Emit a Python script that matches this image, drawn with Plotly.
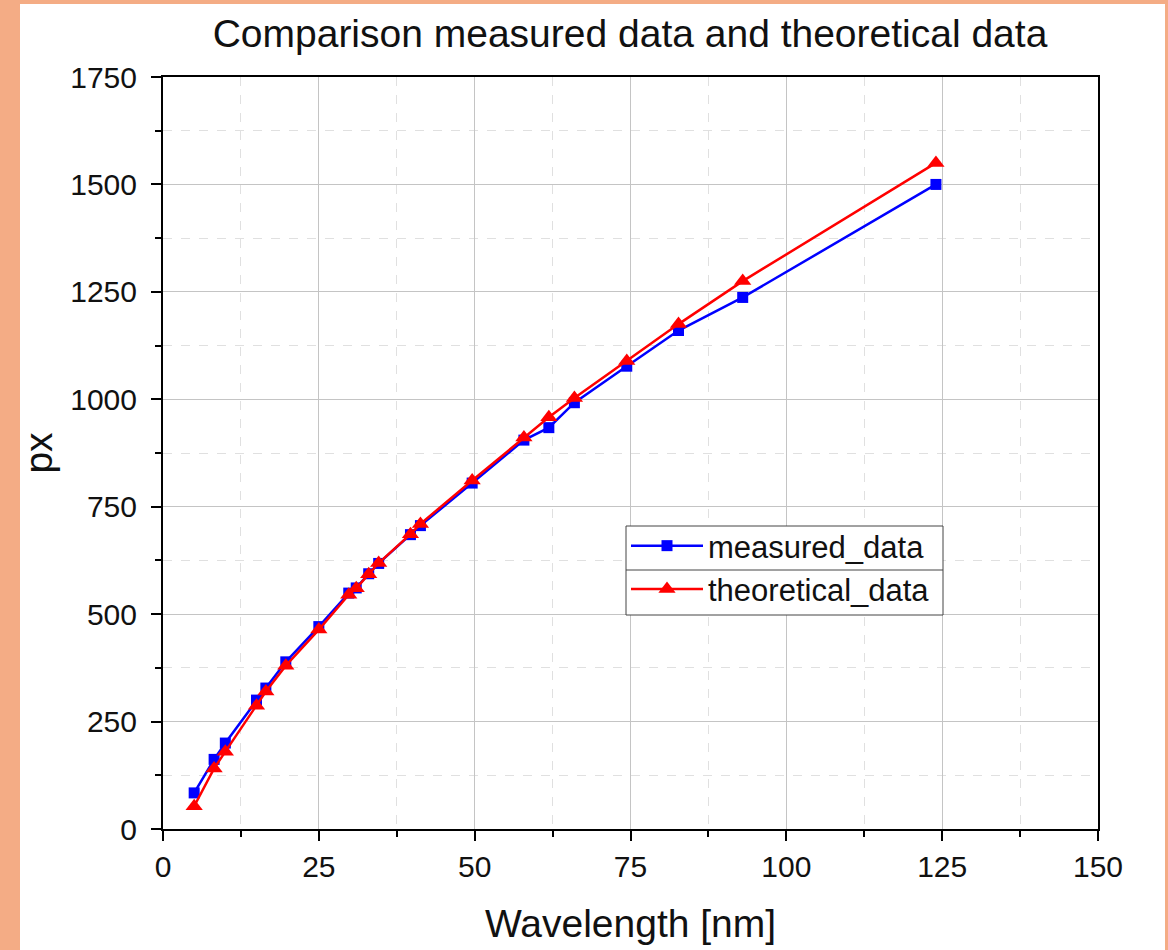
import plotly.graph_objects as go

wavelength = [5, 8.2, 10, 15, 16.5, 19.7, 25, 29.8, 31, 33, 34.6, 39.7, 41.3, 49.6, 57.9, 61.9, 66, 74.4, 82.7, 93, 124]
measured = [84, 162, 200, 300, 328, 389, 471, 549, 561, 594, 618, 685, 706, 805, 905, 934, 992, 1077, 1160, 1237, 1500]
theoretical = [53, 141, 180, 287, 320, 380, 464, 545, 560, 593, 619, 686, 710, 811, 911, 958, 1003, 1089, 1175, 1275, 1550]

L, R, T, B = 163, 1098, 77, 829
W, H = 1168, 950
pw, ph = R - L, B - T

FONT = "Liberation Sans, Arial, sans-serif"

fig = go.Figure()
fig.add_trace(go.Scatter(
    x=wavelength, y=measured, name="measured_data", mode="lines+markers",
    line=dict(color="#0000FF", width=2.5),
    marker=dict(symbol="square", size=11, color="#0000FF"),
))
fig.add_trace(go.Scatter(
    x=wavelength, y=theoretical, name="theoretical_data", mode="lines+markers",
    line=dict(color="#FF0000", width=2.5),
    marker=dict(symbol="triangle-up", size=15, color="#FF0000"),
))

axis_common = dict(
    showline=True, linecolor="black", linewidth=2, mirror=True,
    ticks="outside", ticklen=10, tickwidth=2, tickcolor="black",
    showgrid=True, gridcolor="#c4c4c4", gridwidth=1,
    zeroline=False,
    tickfont=dict(family=FONT, size=30, color="#111111"),
)

fig.update_xaxes(
    range=[0, 150], tick0=0, dtick=25, **axis_common,
    minor=dict(dtick=12.5, ticks="outside", ticklen=6, tickwidth=2, tickcolor="black",
               showgrid=True, gridcolor="#e0e0e0", griddash="dash", gridwidth=1),
    title=dict(text="Wavelength [nm]", font=dict(family=FONT, size=39, color="#111111"), standoff=28),
)
fig.update_yaxes(
    range=[0, 1750], tick0=0, dtick=250, **axis_common,
    ticklabelstandoff=8,
    minor=dict(dtick=125, ticks="outside", ticklen=6, tickwidth=2, tickcolor="black",
               showgrid=True, gridcolor="#e0e0e0", griddash="dash", gridwidth=1),
    title=dict(text="px", font=dict(family=FONT, size=39, color="#111111"), standoff=6),
)

# white page with orange frame
fig.add_shape(type="rect", xref="paper", yref="paper",
              x0=(20 - L) / pw, x1=(1165 - L) / pw,
              y0=(B - 960) / ph, y1=(B - 4) / ph,
              fillcolor="white", line=dict(width=0), layer="below")

# legend box and separator between legend rows
fig.add_shape(type="rect", xref="paper", yref="paper",
              x0=(626 - L) / pw, x1=(943 - L) / pw,
              y0=(B - 615) / ph, y1=(B - 526) / ph,
              fillcolor="white", line=dict(color="#444444", width=1), layer="above")
fig.add_shape(type="line", xref="paper", yref="paper",
              x0=(626 - L) / pw, x1=(943 - L) / pw,
              y0=(B - 570) / ph, y1=(B - 570) / ph,
              line=dict(color="#444444", width=1), layer="above")

fig.update_layout(
    width=W, height=H,
    margin=dict(l=L, r=W - R, t=T, b=H - B, pad=0),
    paper_bgcolor="#F4AC85", plot_bgcolor="white",
    title=dict(text="Comparison measured data and theoretical data",
               font=dict(family=FONT, size=39, color="#111111"),
               x=630 / W, xanchor="center", y=1 - 33 / H, yanchor="middle"),
    legend=dict(x=(626 - L) / pw, y=(B - 519) / ph, xanchor="left", yanchor="top",
                bgcolor="rgba(0,0,0,0)", borderwidth=0,
                font=dict(family=FONT, size=31, color="#111111"),
                itemwidth=72, tracegroupgap=0),
    showlegend=True,
)

fig.write_html("out.html")
